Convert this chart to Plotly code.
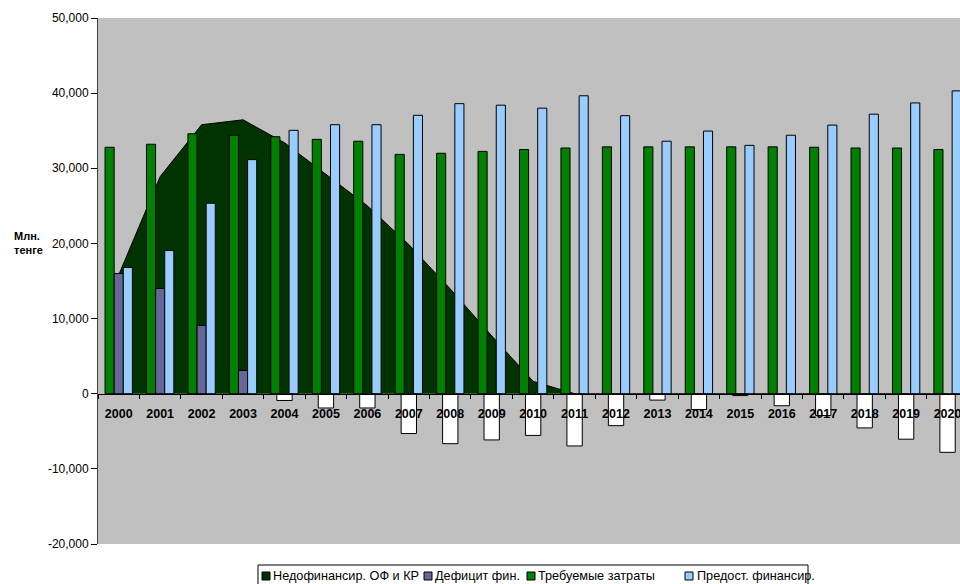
import plotly.graph_objects as go

# Categories and series (Млн. тенге)
years = [str(y) for y in range(2000, 2021)]
required = [32800, 33200, 34600, 34400, 34200, 33850, 33600, 31850, 32000, 32250,
            32500, 32700, 32850, 32850, 32850, 32850, 32850, 32800, 32700, 32700, 32500]
provided = [16800, 19050, 25350, 31150, 35050, 35800, 35800, 37050, 38600, 38400,
            38000, 39650, 37000, 33600, 34950, 33050, 34400, 35750, 37200, 38700, 40300]
deficit = [16000, 14000, 9100, 3100, -900, -1900, -1900, -5300, -6650, -6150,
           -5550, -6950, -4250, -850, -2100, -250, -1600, -2900, -4550, -6050, -7800]
underfunding = [15800, 28900, 35800, 36450, 33400, 29200, 25000, 19850, 13950, 7700,
                1650, 0, 0, 0, 0, 0, 0, 0, 0, 0, 0]

y_tick_values = [-20000, -10000, 0, 10000, 20000, 30000, 40000, 50000]
y_tick_labels = ["-20,000", "-10,000", "0", "10,000", "20,000", "30,000", "40,000", "50,000"]

series_names = ["Недофинансир. ОФ и КР", "Дефицит фин.", "Требуемые затраты", "Предост. финансир."]
series_colors = ["#003300", "#666699", "#008000", "#99CCFF"]

Y_MIN, Y_MAX = -20000, 50000
W, H = 960, 584
ML, MR, MT, MB = 98, 0, 18, 40
PW, PH = W - ML - MR, H - MT - MB
FONT = "Arial, 'Liberation Sans', sans-serif"


def px_x(px):
    return (px - ML) / PW


def px_y(py):
    return (H - MB - py) / PH


deficit_pos = [v if v > 0 else None for v in deficit]
deficit_neg = [v if v < 0 else None for v in deficit]

fig = go.Figure()

# Underfunding area sits on the base axes so the bars draw over it
fig.add_trace(go.Scatter(
    x=years, y=underfunding, name=series_names[0], mode="lines",
    fill="tozeroy", fillcolor=series_colors[0],
    line=dict(color="#000000", width=1), showlegend=False,
))

bar_line = dict(color="#000000", width=1)
fig.add_trace(go.Bar(
    x=years, y=required, name=series_names[2], yaxis="y2",
    width=0.22, offset=-0.33,
    marker=dict(color=series_colors[2], line=bar_line), showlegend=False,
))
fig.add_trace(go.Bar(
    x=years, y=deficit_pos, name=series_names[1], yaxis="y2",
    width=0.22, offset=-0.11,
    marker=dict(color=series_colors[1], line=bar_line), showlegend=False,
))
fig.add_trace(go.Bar(
    x=years, y=provided, name=series_names[3], yaxis="y2",
    width=0.22, offset=0.11,
    marker=dict(color=series_colors[3], line=bar_line), showlegend=False,
))
fig.add_trace(go.Bar(
    x=years, y=deficit_neg, name=series_names[1], yaxis="y2",
    width=0.37, offset=-0.185,
    marker=dict(color="#FFFFFF", line=bar_line), showlegend=False,
))

zero_pos = (0 - Y_MIN) / (Y_MAX - Y_MIN)

fig.update_layout(
    width=W, height=H,
    margin=dict(l=ML, r=MR, t=MT, b=MB, pad=0),
    paper_bgcolor="#FFFFFF", plot_bgcolor="#C0C0C0",
    barmode="overlay",
    font=dict(family=FONT, color="#000000"),
    xaxis=dict(
        type="category", range=[-0.5, 20.3],
        anchor="free", position=zero_pos,
        showline=True, linecolor="#000000", linewidth=1,
        ticks="outside", tickson="boundaries", ticklen=4, tickcolor="#000000",
        tickfont=dict(family=FONT, size=12.5, weight="bold", color="#000000"),
        ticklabelstandoff=8,
        showgrid=False, zeroline=False, automargin=False,
    ),
    yaxis=dict(
        range=[Y_MIN, Y_MAX],
        tickvals=y_tick_values, ticktext=y_tick_labels,
        ticks="outside", ticklen=6, tickcolor="#000000",
        tickfont=dict(family=FONT, size=12, color="#000000"),
        showline=True, linecolor="#404040", linewidth=1,
        showgrid=False, zeroline=False, automargin=False,
    ),
    yaxis2=dict(
        range=[Y_MIN, Y_MAX], overlaying="y", visible=False,
        showgrid=False, zeroline=False,
    ),
    hovermode=False,
)

title_font = dict(family=FONT, size=11, weight="bold", color="#000000")
annotations = [
    dict(text="Млн.", x=px_x(12), y=px_y(236), xanchor="left", yanchor="middle", font=title_font),
    dict(text="тенге", x=px_x(12), y=px_y(250), xanchor="left", yanchor="middle", font=title_font),
]

# Legend box along the bottom edge
shapes = [dict(type="rect", xref="paper", yref="paper",
               x0=px_x(258), x1=px_x(808), y0=px_y(565), y1=px_y(600),
               line=dict(color="#000000", width=1), fillcolor="#FFFFFF", layer="above")]
legend_square_x = [262, 424, 527, 685]
legend_text_x = [271, 433, 536, 695]
for name, color, sx, tx in zip(series_names, series_colors, legend_square_x, legend_text_x):
    shapes.append(dict(type="rect", xref="paper", yref="paper",
                       x0=px_x(sx), x1=px_x(sx + 8), y0=px_y(572), y1=px_y(580),
                       line=dict(color="#000000", width=1), fillcolor=color, layer="above"))
    annotations.append(dict(text=name, x=px_x(tx), y=px_y(576),
                            xanchor="left", yanchor="middle",
                            font=dict(family=FONT, size=12.7, color="#000000")))

for a in annotations:
    a.update(xref="paper", yref="paper", showarrow=False)

fig.update_layout(annotations=annotations, shapes=shapes)

fig.write_html("out.html")
